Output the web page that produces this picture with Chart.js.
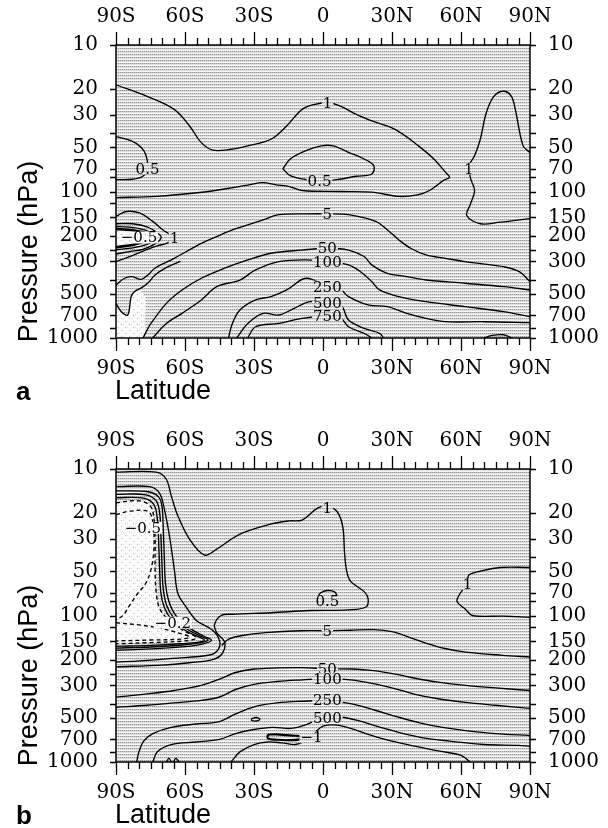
<!DOCTYPE html>
<html>
<head>
<meta charset="utf-8">
<script src="https://cdn.jsdelivr.net/npm/chart.js@4.4.1/dist/chart.umd.min.js"></script>
<style>
  body { margin: 0; background: #fff; width: 608px; height: 828px; overflow: hidden; position: relative; }
  canvas { position: absolute; left: 0; }
  #chartA { top: 0; }
  #chartB { top: 424px; }
</style>
</head>
<body>
<canvas id="chartA" width="608" height="424"></canvas>
<canvas id="chartB" width="608" height="404"></canvas>
<script>
// axes
const latTicks = [-90, -60, -30, 0, 30, 60, 90];
const pLabels = [10, 20, 30, 50, 70, 100, 150, 200, 300, 500, 700, 1000];
const pMinor = [40, 80, 120, 250, 400, 850];

// panel a contours, [latitude, hPa]
const a1Top = [[-90,18.7],[-76.5,22.4],[-64.7,27.5],[-58,35.7],[-52.9,46.4],[-47.9,52.2],[-40,51.5],[-32.7,48.8],[-22.6,44],[-15.8,35.7],[-9.1,27.5],[-4,25.5],[2,24.8],[7.8,26.2],[14.5,29.8],[21.2,33],[31.3,37.7],[41.5,48.8],[48.2,60],[53.3,74],[55,80],[52.4,84],[46.5,98],[41.5,105],[33,108],[21.2,101],[7.75,100],[-9.1,98.4],[-14.6,92.5],[-20.3,90],[-26.2,87],[-32,90],[-40.7,95],[-53.7,101.6],[-72.5,108],[-90,110]];
const a05South = [[-90,42.2],[-83.3,45.2],[-79,50],[-76.9,57],[-76.3,70],[-78.5,79],[-82.8,82.5],[-90,83]];
const a05Eq = [[-17.5,70],[-14.2,60],[-7.4,52.7],[-0.7,48.8],[4.4,48.8],[11.1,54],[17.9,60],[22.1,66.7],[21.2,76],[14.5,78.7],[6,83],[-1.5,85],[-9.1,82],[-14.2,78],[-17.5,70]];
const a1North = [[90,54.2],[87,48.8],[83.6,27.5],[81.9,22.4],[78.5,20.7],[74.3,22.4],[71,29],[68.4,44],[65.9,57],[63.4,66.6],[63.6,72],[64.2,82],[65.9,98.4],[64.2,121],[62.5,146],[68.4,166],[76.9,162],[90,153]];
const a1Blob = [[-90,148],[-85.6,137],[-79.8,140],[-74,160],[-69.6,183],[-66,198],[-64.6,208],[-68,226],[-71.8,234],[-76.9,250],[-84.1,278],[-90,301]];
const a05Blob = [[-90,166],[-82.7,166],[-76.2,175],[-71.8,193],[-70.3,205],[-72.5,225],[-78.3,248],[-84.1,257],[-90,267]];
const a0Blob = [[-90,173],[-79.8,179],[-74,193],[-72.5,205],[-74,220],[-79.8,238],[-90,250]];
const aNegBlob = [[-90,180],[-81,186],[-76,195],[-75,205],[-77,216],[-82,230],[-90,240]];
const a5 = [[-90,434],[-86.3,391],[-83,381],[-79,398],[-76,370],[-73.1,334],[-64.7,286],[-52.9,226],[-46.2,203],[-39.4,183],[-32.7,169],[-26,156],[-19.2,144],[-7.4,142],[1.9,142],[11.1,144],[22.9,160],[28,183],[33,214],[38.1,244],[44.8,271],[53.3,286],[61.7,301],[70.1,313],[78.5,326],[85.3,352],[90,412]];
const a5Low = [[-90,580],[-87.7,661],[-84.9,697],[-83.4,522],[-82,483],[-79,455],[-76,420],[-73,372],[-68,330],[-62,300]];
const a50 = [[-78.2,996],[-76.5,883],[-74.8,795],[-68.1,580],[-61.3,470],[-52.9,391],[-42.8,334],[-32.7,293],[-22.6,264],[-9.1,251],[1.9,244],[11.1,251],[17.9,278],[21.2,317],[28,362],[36.4,381],[44.8,402],[61.7,423],[78.5,446],[90,470]];
const a100 = [[-74,996],[-68.1,795],[-61.3,679],[-52.9,550],[-46.2,446],[-36.1,402],[-29.3,343],[-19.2,301],[-7.4,293],[1.9,301],[11.1,317],[16.2,352],[21.2,412],[24.6,470],[33,522],[44.8,565],[61.7,611],[78.5,661],[90,715]];
const a250 = [[-41.1,996],[-39.4,795],[-36.1,644],[-29.3,550],[-22.6,522],[-15.8,470],[-7.4,391],[1.9,446],[7.8,470],[11.1,522],[19.6,595],[28,611],[36.4,679],[44.8,734],[53.3,774],[70.1,774],[90,786]];
const a500 = [[-37.4,996],[-32.7,795],[-26,679],[-19.2,697],[-12.5,627],[-5.7,565],[1.9,580],[7.8,595],[11.1,754],[17.9,860],[24.6,930],[26.3,996]];
const a750 = [[-32.7,996],[-29.3,838],[-19.2,795],[-9.1,734],[1.9,711],[7.8,734],[11.1,838],[17.9,930],[21.2,996]];
const aBump = [[70,1000],[73.5,960],[78.5,950],[82,1000]];
const aLabels = [['1',2,25],['0.5',-76.3,70],['0.5',-1.5,85.5],['1',63.4,70],['\u22120.5',-80,206,'light'],['1',-64.6,207],
  ['5',1.9,142],['50',1.9,244],['100',1.9,301],['250',1.9,446],['500',1.9,580],['750',1.9,711]];

// panel b contours
const b1Top = [[-90,10.5],[-72.5,10.5],[-68.2,11.7],[-66,15.2],[-63.1,20.9],[-58,30.2],[-51.5,38.7],[-46.4,35.4],[-36.3,27.9],[-23.3,23.9],[-14.6,22.6],[-9.1,22.3],[-2.4,18.5],[1.9,18],[6.1,19.5],[8.6,24.8],[9.4,38],[10.3,49.9],[12,58.5],[17.9,68.7],[19.6,76.5],[18.7,87.5],[11.1,91.5],[-5.7,92.5],[-22.6,95.7],[-39.4,98],[-44.3,100],[-47.2,116],[-46.1,132],[-42.8,151],[-43.7,181],[-48,200],[-58,210],[-70,218],[-90,224]];
const b05Eq = [[-2.5,76],[-1,70],[2,67.5],[5,69],[6.5,75]];
const b05Blob = [[-90,13.2],[-75.4,13.2],[-71.1,14.6],[-68.9,19],[-66.7,29],[-64.6,49],[-63.1,70.8],[-59.5,87.5],[-55.1,108],[-47.9,126.4],[-45,148],[-45.5,170],[-49.3,186],[-65.3,196],[-79.8,204],[-90,208]];
const bIn1 = [[-90,14.1],[-76,14.3],[-71.5,15.5],[-70,18],[-69.5,25],[-69,40],[-68.5,60],[-67,80],[-64,100],[-58,122],[-52,138],[-48.5,147],[-52,156],[-60,163],[-75,169],[-90,173]];
const bIn2 = [[-90,14.9],[-77,15],[-72.5,16.5],[-71,20],[-70.5,28],[-70,45],[-69.5,65],[-68,85],[-65,103],[-59,124],[-53,139],[-50,147],[-53,153],[-61,159],[-75,164],[-90,167]];
const bIn3 = [[-90,15.7],[-78,15.8],[-73.5,17.5],[-72,22],[-71.5,30],[-71,50],[-70.5,70],[-69,88],[-66,106],[-60,126],[-54,140],[-51.5,147],[-54,152],[-62,156],[-75,160],[-90,162]];
const bNeg02 = [[-90,17],[-80,16.5],[-75,18],[-73.5,22],[-73,30],[-73,50],[-72.5,70],[-71,90],[-67,108],[-65.3,112],[-61,126],[-55,142],[-60,149],[-75,153],[-90,156]];
const bNeg05 = [[-90,20.5],[-84,19.4],[-76,19.5],[-74,23],[-73.5,35],[-75,50],[-77.5,62],[-80.5,70.5],[-84,85],[-87,100],[-90,107]];
const bNeg02b = [[-90,112],[-80,116],[-72,121],[-64,130],[-58,140],[-62,145],[-75,147],[-90,149]];
const b1North = [[90,47],[76.9,47],[68.4,49.9],[63.4,53],[62.8,60],[59.2,72.4],[58.3,80.7],[61.7,90],[65,100],[78.5,101],[90,103]];
const b5 = [[-44,160],[-41,145],[-35,137],[-25,131],[-10,127],[1.9,127],[12,126],[22,125],[30,129],[37,140],[45,155],[53,168],[62,178],[78,187],[90,192]];
const b50 = [[-90,361],[-76.5,343],[-64.7,325],[-52.9,300],[-44.5,270],[-38,245],[-30,232],[-20,228],[-9,227],[1.9,231],[12,232],[22,238],[32,252],[40,268],[50,285],[62,300],[75,312],[90,325]];
const b100 = [[-90,423],[-76.5,410],[-64.7,395],[-52.9,380],[-45,360],[-38,320],[-30,295],[-20,282],[-9,275],[1.9,270],[12,275],[22,292],[32,318],[40,345],[50,370],[62,392],[75,410],[90,430]];
const b250 = [[-81,1000],[-80,850],[-78,720],[-74,640],[-66,580],[-55,550],[-45,530],[-38,470],[-30,420],[-20,395],[-9,385],[1.9,381],[12,400],[22,440],[32,490],[42,540],[52,580],[62,610],[75,640],[90,660]];
const b500 = [[-74,1000],[-72,850],[-66,760],[-55,730],[-45,700],[-38,640],[-30,600],[-22,580],[-14,590],[-8,560],[-3,520],[1.9,501],[8,495],[15,520],[25,580],[35,640],[45,690],[55,720],[70,760],[85,770],[90,780]];
const b750 = [[-40,1000],[-36,850],[-30,760],[-24,730],[-18,740],[-12,760],[-8,720],[-4,640],[0,570],[6,560],[12,590],[20,650],[30,720],[40,780],[50,840],[60,900],[64,1000]];
const bNeg1 = [[-24,650],[-20,648],[-16,655],[-12,662],[-9,675],[-10,700],[-15,710],[-20,705],[-24,690],[-24,650]];
const bRing = [[-31,505],[-29,497],[-27.5,510],[-29,525],[-31,520],[-31,505]];
const bBump1 = [[-68,1000],[-67,940],[-66,1000]];
const bBump2 = [[-65,1000],[-64,945],[-62.5,1000]];
const bLabels = [['1',1.9,18.5],['0.5',1.9,80],['1',62.8,61],['\u22120.5',-78.3,25.2,'light'],['\u22120.2',-65.3,112,'light'],
  ['5',1.9,127],['50',1.9,231],['100',1.9,270],['250',1.9,381],['500',1.9,501],['\u22121',-5,678]];

// unshaded areas
const aLight = [[-90,180],[-81,186],[-76,195],[-75,205],[-77,216],[-82,230],[-90,240]];
const aLight2 = [[-90,580],[-87.7,661],[-84.9,697],[-83.4,522],[-82,483],[-79,480],[-77,560],[-77.5,750],[-78.2,1000],[-90,1000]];
const bLight = [[-90,17],[-80,16.5],[-75,18],[-73.5,22],[-73,30],[-73,50],[-72.5,70],[-71,90],[-67,108],[-61,126],[-55,142],[-60,149],[-75,153],[-90,156]];

const linesA = [[a1Top], [a05South], [a05Eq], [a1North], [a1Blob], [a05Blob], [a0Blob], [aNegBlob, false, 2.6],
  [a5], [a5Low], [a50], [a100], [a250], [a500], [a750], [aBump]];
const linesB = [[b1Top], [b05Eq], [b05Blob], [bIn1], [bIn2], [bIn3], [bNeg02, true], [bNeg05, true], [bNeg02b, true],
  [b1North], [b5], [b50], [b100], [b250], [b500], [b750], [bNeg1, false, 2.2], [bRing], [bBump1], [bBump2]];

// dotted fill used for the shaded field and, sparser, for the negative areas
function stipple(ctx, light) {
  const c = document.createElement('canvas');
  const g = c.getContext('2d');
  if (light) {
    c.width = 8; c.height = 6;
    g.fillStyle = '#fafafa'; g.fillRect(0, 0, 8, 6);
    g.fillStyle = '#c2c2c2'; g.fillRect(1, 0, 1, 1); g.fillRect(5, 3, 1, 1);
    g.fillStyle = '#e6e6e6'; g.fillRect(3, 0, 1, 1); g.fillRect(7, 3, 1, 1);
  } else {
    c.width = 4; c.height = 3;
    g.fillStyle = '#f4f4f4'; g.fillRect(0, 0, 4, 3);
    g.fillStyle = '#e0e0e0'; g.fillRect(0, 1, 4, 1);
    g.fillStyle = '#969696'; g.fillRect(0, 0, 1, 1); g.fillRect(2, 0, 1, 1);
    g.fillStyle = '#cacaca'; g.fillRect(1, 0, 1, 1); g.fillRect(3, 0, 1, 1);
  }
  return ctx.createPattern(c, 'repeat');
}

const paleFill = stipple(document.createElement('canvas').getContext('2d'), true);

function toXY(pts) {
  return pts.map(([x, y]) => ({ x, y }));
}

function makeDatasets(lines, lights) {
  const sets = lights.map(pts => ({
    data: toXY(pts), showLine: true, pointRadius: 0, borderWidth: 0,
    fill: 'shape', backgroundColor: paleFill, tension: 0.35, order: 2
  }));
  lines.forEach(([pts, dashed, width]) => {
    sets.push({
      data: toXY(pts), showLine: true, pointRadius: 0, fill: false,
      borderColor: '#000', borderWidth: width || 1.35, borderDash: dashed ? [4, 3] : [],
      tension: 0.35, order: 1
    });
  });
  return sets;
}

const latName = v => v < 0 ? (-v) + 'S' : v > 0 ? v + 'N' : '0';

function xAxis(pos, padding) {
  return {
    type: 'linear', position: pos, min: -90, max: 90,
    afterBuildTicks: s => { s.ticks = latTicks.map(v => ({ value: v })); },
    ticks: { callback: latName, padding, maxRotation: 0, autoSkip: false },
    grid: { display: false, drawTicks: false },
    border: { display: false }
  };
}

function yAxis(pos, width) {
  return {
    type: 'logarithmic', position: pos, min: 10, max: 1000, reverse: true,
    afterBuildTicks: s => { s.ticks = pLabels.map(v => ({ value: v })); },
    afterFit: s => { s.width = width; },
    ticks: { callback: v => String(v), padding: 18, autoSkip: false },
    grid: { display: false, drawTicks: false },
    border: { display: false }
  };
}

const panelDecor = {
  id: 'panelDecor',
  beforeDatasetsDraw(chart) {
    const { ctx, chartArea: { left, top, right, bottom } } = chart;
    ctx.save();
    ctx.fillStyle = stipple(ctx, false);
    ctx.fillRect(left, top, right - left, bottom - top);
    ctx.restore();
  },
  afterDatasetsDraw(chart, args, opts) {
    const { ctx, chartArea: { left, top, right, bottom } } = chart;
    const xs = chart.scales.x, ys = chart.scales.y;
    ctx.save();
    // contour labels
    ctx.font = '15px "DejaVu Serif"';
    ctx.textAlign = 'center';
    ctx.textBaseline = 'middle';
    const dark = stipple(ctx, false), pale = stipple(ctx, true);
    opts.labels.forEach(([txt, lat, p, bg]) => {
      const x = xs.getPixelForValue(lat), y = ys.getPixelForValue(p);
      const w = ctx.measureText(txt).width;
      ctx.fillStyle = bg ? pale : dark;
      ctx.fillRect(x - w / 2 - 1, y - 6, w + 2, 12);
      ctx.fillStyle = '#000';
      ctx.fillText(txt, x, y + 1);
    });
    // frame and ticks
    ctx.strokeStyle = '#000';
    ctx.lineWidth = 1.5;
    ctx.strokeRect(left, top, right - left, bottom - top);
    ctx.lineWidth = 1.3;
    ctx.beginPath();
    for (let lat = -90; lat <= 90; lat += 5) {
      const x = Math.round(xs.getPixelForValue(lat)) + 0.5;
      const len = lat % 30 === 0 ? 13 : 7;
      ctx.moveTo(x, top); ctx.lineTo(x, top - len);
      ctx.moveTo(x, bottom); ctx.lineTo(x, bottom + len);
    }
    pLabels.concat(pMinor).forEach(p => {
      const y = Math.round(ys.getPixelForValue(p)) + 0.5;
      ctx.moveTo(left, y); ctx.lineTo(left - 6, y);
      ctx.moveTo(right, y); ctx.lineTo(right + 6, y);
    });
    ctx.stroke();
    // axis titles and panel letter
    ctx.fillStyle = '#000';
    ctx.font = '27px "Liberation Sans"';
    ctx.textAlign = 'left';
    ctx.textBaseline = 'alphabetic';
    ctx.fillText('Latitude', 115, 399);
    ctx.font = 'bold 26px "Liberation Sans"';
    ctx.fillText(opts.tag, 16, 400);
    ctx.translate(37, (top + bottom) / 2 + 60);
    ctx.rotate(-Math.PI / 2);
    ctx.textAlign = 'center';
    ctx.font = '27px "Liberation Sans"';
    ctx.fillText('Pressure (hPa)', 0, 0);
    ctx.restore();
  }
};

Chart.defaults.font.family = '"DejaVu Serif"';
Chart.defaults.font.size = 20;
Chart.defaults.color = '#000';

function drawPanel(id, lines, lights, labels, tag, below) {
  new Chart(document.getElementById(id), {
    type: 'scatter',
    data: { datasets: makeDatasets(lines, lights) },
    options: {
      responsive: false,
      animation: false,
      events: [],
      layout: { padding: 0 },
      plugins: { legend: { display: false }, tooltip: { enabled: false }, panelDecor: { labels, tag } },
      scales: {
        x: Object.assign(xAxis('bottom', 19), { afterFit: s => { s.height = below; } }),
        x2: Object.assign(xAxis('top', 16), { afterFit: s => { s.height = 45; } }),
        y: yAxis('left', 116),
        y2: yAxis('right', 78)
      }
    },
    plugins: [panelDecor]
  });
}

drawPanel('chartA', linesA, [aLight, aLight2], aLabels, 'a', 424 - 338);
drawPanel('chartB', linesB, [bLight], bLabels, 'b', 404 - 338);
</script>
</body>
</html>
